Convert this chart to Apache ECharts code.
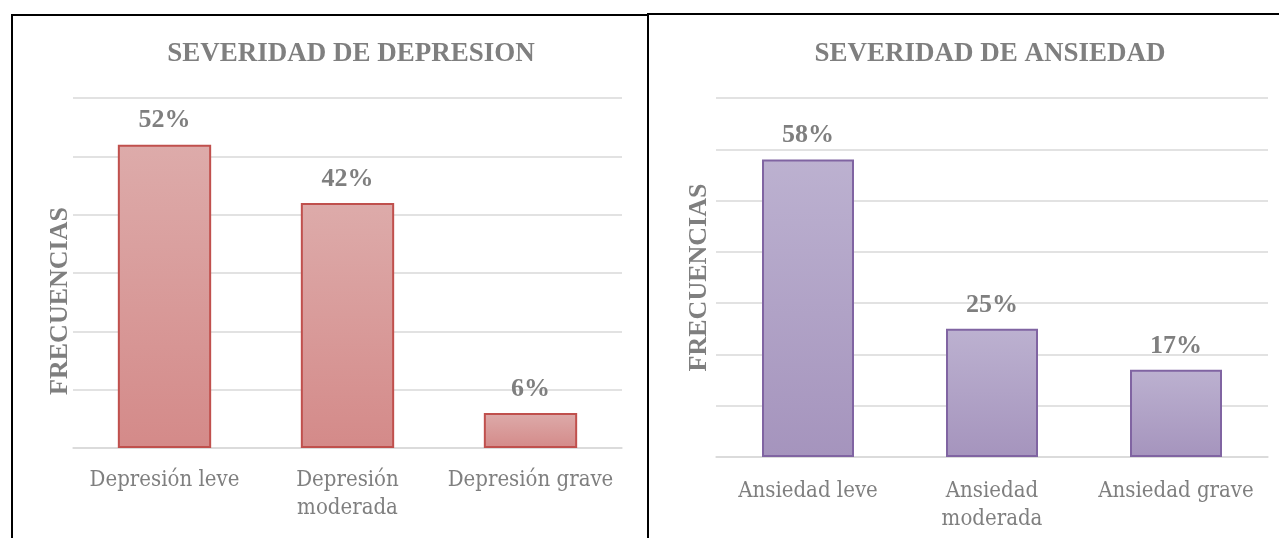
<!DOCTYPE html>
<html>
<head>
<meta charset="utf-8">
<script src="https://cdn.jsdelivr.net/npm/echarts@6/dist/echarts.min.js"></script>
<style>
  html, body { margin: 0; padding: 0; background: #ffffff; }
  #chart { width: 1279px; height: 538px; }
</style>
</head>
<body>
<div id="chart"></div>
<script>
// Depression severity (left panel)
const depCategories = ['Depresión leve', 'Depresión\nmoderada', 'Depresión grave'];
const depValues = [52, 42, 6];
// Anxiety severity (right panel)
const ansCategories = ['Ansiedad leve', 'Ansiedad\nmoderada', 'Ansiedad grave'];
const ansValues = [58, 25, 17];
const titles = ['SEVERIDAD DE DEPRESION', 'SEVERIDAD DE ANSIEDAD'];
const axisName = 'FRECUENCIAS';

const GRAY = '#7f7f7f';
const SERIF = '"Liberation Serif", "Times New Roman", serif';
const CAT_FONT = '"DejaVu Serif Condensed", "Liberation Serif", serif';

function grad(top, bottom) {
  return new echarts.graphic.LinearGradient(0, 0, 0, 1, [
    { offset: 0, color: top },
    { offset: 1, color: bottom }
  ]);
}

const chart = echarts.init(document.getElementById('chart'), null, { renderer: 'canvas' });

const xAxisBase = {
  type: 'category',
  axisTick: { show: false },
  axisLine: { show: true, lineStyle: { color: '#d9d9d9', width: 1.5 } },
  axisLabel: {
    color: GRAY, fontFamily: CAT_FONT, fontSize: 22, lineHeight: 28,
    interval: 0
  }
};
const nameStyle = { color: GRAY, fontFamily: SERIF, fontWeight: 'bold', fontSize: 26 };
const yAxisBase = {
  type: 'value',
  min: 0,
  interval: 10,
  axisLabel: { show: false },
  axisLine: { show: false },
  axisTick: { show: false },
  splitLine: { lineStyle: { color: '#d9d9d9', width: 1.5 } },
  name: axisName,
  nameLocation: 'middle',
  nameRotate: 90
};
const labelBase = {
  show: true, position: 'top', distance: 11,
  color: GRAY, fontFamily: SERIF, fontWeight: 'bold', fontSize: 26,
  formatter: p => p.value + '%'
};
const titleStyle = { color: GRAY, fontFamily: SERIF, fontWeight: 'bold', fontSize: 27 };

chart.setOption({
  animation: false,
  title: [
    { text: titles[0], left: 346, top: 36, textAlign: 'center', textStyle: titleStyle },
    { text: titles[1], left: 985, top: 36, textAlign: 'center', textStyle: titleStyle }
  ],
  grid: [
    { left: 73, right: 657, top: 98, bottom: 90 },
    { left: 716, right: 11, top: 98, bottom: 81 }
  ],
  xAxis: [
    Object.assign({}, xAxisBase, { gridIndex: 0, data: depCategories,
      axisLabel: Object.assign({}, xAxisBase.axisLabel, { margin: 18 }) }),
    Object.assign({}, xAxisBase, { gridIndex: 1, data: ansCategories,
      axisLabel: Object.assign({}, xAxisBase.axisLabel, { margin: 20 }) })
  ],
  yAxis: [
    Object.assign({}, yAxisBase, { gridIndex: 0, max: 60, nameGap: 0,
      // the left axis title sits a little below the plot's centre
      nameTextStyle: Object.assign({}, nameStyle, { padding: [0, 56, 0, 0] }) }),
    Object.assign({}, yAxisBase, { gridIndex: 1, max: 70, nameGap: 4,
      nameTextStyle: nameStyle })
  ],
  series: [
    {
      type: 'bar', xAxisIndex: 0, yAxisIndex: 0, data: depValues,
      barWidth: '51%',
      itemStyle: { color: grad('#ddabaa', '#d48a89'), borderColor: '#c0504d', borderWidth: 2 },
      label: labelBase
    },
    {
      type: 'bar', xAxisIndex: 1, yAxisIndex: 1, data: ansValues,
      barWidth: '50%',
      itemStyle: { color: grad('#bcb1d0', '#a594bd'), borderColor: '#8064a2', borderWidth: 2 },
      label: labelBase
    }
  ],
  graphic: [
    // panel frames
    { type: 'polyline', shape: { points: [[12, 540], [12, 15], [648, 15]] },
      style: { stroke: '#000', lineWidth: 2, fill: null } },
    { type: 'polyline', shape: { points: [[648, 540], [648, 14], [1280, 14]] },
      style: { stroke: '#000', lineWidth: 2, fill: null } }
  ]
});
</script>
</body>
</html>
